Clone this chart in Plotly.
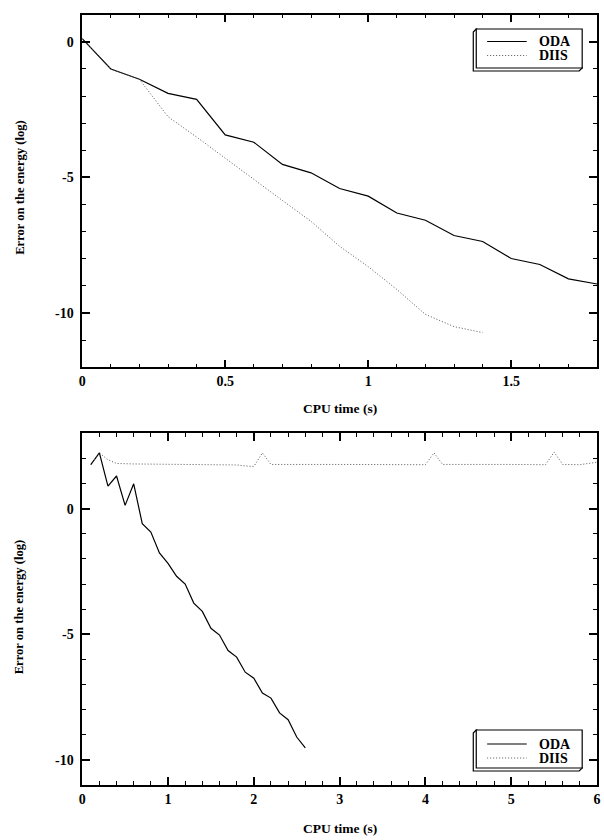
import plotly.graph_objects as go

# ---- data: top panel ----
top_oda_x = [0.0, 0.1, 0.2, 0.3, 0.4, 0.5, 0.6, 0.7, 0.8, 0.9, 1.0, 1.1, 1.2, 1.3, 1.4, 1.5, 1.6, 1.7, 1.8]
top_oda_y = [0.12, -1.0, -1.38, -1.9, -2.12, -3.43, -3.7, -4.52, -4.83, -5.41, -5.69, -6.31, -6.58, -7.14, -7.36, -7.99, -8.21, -8.74, -8.93]
top_diis_x = [0.0, 0.1, 0.2, 0.3, 0.4, 0.5, 0.6, 0.7, 0.8, 0.9, 1.0, 1.1, 1.2, 1.3, 1.4]
top_diis_y = [0.12, -1.0, -1.38, -2.76, -3.51, -4.3, -5.08, -5.85, -6.62, -7.54, -8.29, -9.13, -10.05, -10.5, -10.72]

# ---- data: bottom panel ----
bot_oda_x = [0.1, 0.2, 0.3, 0.4, 0.5, 0.6, 0.7, 0.8, 0.9, 1.0, 1.1, 1.2, 1.3, 1.4, 1.5, 1.6, 1.7, 1.8,
             1.9, 2.0, 2.1, 2.2, 2.3, 2.4, 2.5, 2.6]
bot_oda_y = [1.75, 2.22, 0.9, 1.3, 0.13, 0.99, -0.6, -0.93, -1.76, -2.18, -2.69, -3.0, -3.76, -4.09, -4.76,
             -5.03, -5.65, -5.91, -6.51, -6.75, -7.34, -7.54, -8.13, -8.4, -9.09, -9.52]
bot_diis_x = [0.1, 0.2, 0.3, 0.4, 0.6, 1.0, 1.5, 1.8, 1.9, 2.0, 2.1, 2.2, 3.0, 3.5, 4.0, 4.1, 4.2, 5.0, 5.4,
              5.5, 5.6, 5.8, 6.0]
bot_diis_y = [1.75, 2.22, 1.95, 1.8, 1.78, 1.77, 1.76, 1.74, 1.7, 1.68, 2.22, 1.76, 1.76, 1.76, 1.75, 2.22,
              1.76, 1.76, 1.75, 2.25, 1.76, 1.75, 1.85]

series_names = ["ODA", "DIIS"]

top_xticks = [0, 0.5, 1, 1.5]
top_xticktext = ["0", "0.5", "1", "1.5"]
bot_xticks = [0, 1, 2, 3, 4, 5, 6]
bot_xticktext = ["0", "1", "2", "3", "4", "5", "6"]
yticks = [-10, -5, 0]
yticktext = ["-10", "-5", "0"]

x_title = "CPU time (s)"
y_title = "Error on the energy (log)"

SERIF = "Liberation Serif"
solid = dict(color="black", width=1.2)
dotted = dict(color="#555555", width=1, dash="1px,2px")

fig = go.Figure()
fig.add_trace(go.Scatter(x=top_oda_x, y=top_oda_y, mode="lines", line=solid, name=series_names[0],
                         xaxis="x", yaxis="y"))
fig.add_trace(go.Scatter(x=top_diis_x, y=top_diis_y, mode="lines", line=dotted, name=series_names[1],
                         xaxis="x", yaxis="y"))
fig.add_trace(go.Scatter(x=bot_oda_x, y=bot_oda_y, mode="lines", line=solid, name=series_names[0],
                         xaxis="x2", yaxis="y2"))
fig.add_trace(go.Scatter(x=bot_diis_x, y=bot_diis_y, mode="lines", line=dotted, name=series_names[1],
                         xaxis="x2", yaxis="y2"))

W, H = 604, 840
xdom = [80 / W, 600 / W]
top_dom = [1 - 367.3 / H, 1 - 14.7 / H]
bot_dom = [1 - 785 / H, 1 - 433.3 / H]

tickfont = dict(family=SERIF, size=14, color="black", weight="bold")

def axis(dom, rng, vals, text, minor_dt, anchor, standoff):
    return dict(domain=dom, range=rng, anchor=anchor, tickmode="array", tickvals=vals, ticktext=text,
                ticks="inside", ticklen=8, tickwidth=1.5, tickcolor="black",
                showline=True, linecolor="black", linewidth=1.5, mirror="allticks",
                showgrid=False, zeroline=False, tickfont=tickfont, ticklabelstandoff=standoff,
                minor=dict(tickmode="linear", tick0=0, dtick=minor_dt, ticks="inside", ticklen=4,
                           tickwidth=1.2, tickcolor="black", showgrid=False))

fig.update_layout(
    width=W, height=H, margin=dict(l=0, r=0, t=0, b=0),
    paper_bgcolor="white", plot_bgcolor="white",
    xaxis=axis(xdom, [0, 1.8], top_xticks, top_xticktext, 0.1, "y", 0),
    yaxis=axis(top_dom, [-12, 1], yticks, yticktext, 1, "x", 4),
    xaxis2=axis(xdom, [0, 6], bot_xticks, bot_xticktext, 0.2, "y2", 0),
    yaxis2=axis(bot_dom, [-11, 3], yticks, yticktext, 1, "x2", 4),
    showlegend=False,
)

px = lambda v: v / W
py = lambda v: 1 - v / H

# 3D legend boxes with line samples and labels
def legend_box(x0, y0, x1, y1, row1, row2, d=3):
    fig.add_shape(type="path", xref="paper", yref="paper",
                  path=f"M {px(x0)} {py(y0)} L {px(x0 - d)} {py(y0 + d)} L {px(x0 - d)} {py(y1 + d)} "
                       f"L {px(x1 - d)} {py(y1 + d)} L {px(x1)} {py(y1)} Z",
                  line=dict(color="black", width=1.2), fillcolor="white", layer="above")
    fig.add_shape(type="rect", xref="paper", yref="paper", x0=px(x0), x1=px(x1), y0=py(y1), y1=py(y0),
                  line=dict(color="black", width=1.2), fillcolor="white", layer="above")
    for yy, ln, name in [(row1, solid, series_names[0]), (row2, dotted, series_names[1])]:
        fig.add_shape(type="line", xref="paper", yref="paper", x0=px(489), x1=px(529), y0=py(yy), y1=py(yy),
                      line=ln, layer="above")
        fig.add_annotation(text=name, xref="paper", yref="paper", x=px(539), y=py(yy), showarrow=False,
                           xanchor="left", yanchor="middle",
                           font=dict(family=SERIF, size=14, color="black", weight="bold"))

legend_box(478, 29, 585, 68, 41.5, 55.5)
legend_box(478, 730, 585, 768, 744, 758)

for yc_x, yc_y in [(408, 187.5), (828, 607)]:
    fig.add_annotation(text=x_title, xref="paper", yref="paper", x=340 / W, y=1 - yc_x / H,
                       showarrow=False, font=dict(family=SERIF, size=13.5, color="black", weight="bold"),
                       xanchor="center", yanchor="middle")
    fig.add_annotation(text=y_title, xref="paper", yref="paper", x=16.5 / W, y=1 - yc_y / H,
                       showarrow=False, font=dict(family=SERIF, size=12.6, color="black", weight="bold"),
                       textangle=-90, xanchor="center", yanchor="middle")

fig.write_html("out.html", config={"displayModeBar": False},
               post_script="document.body.style.margin='0';")
